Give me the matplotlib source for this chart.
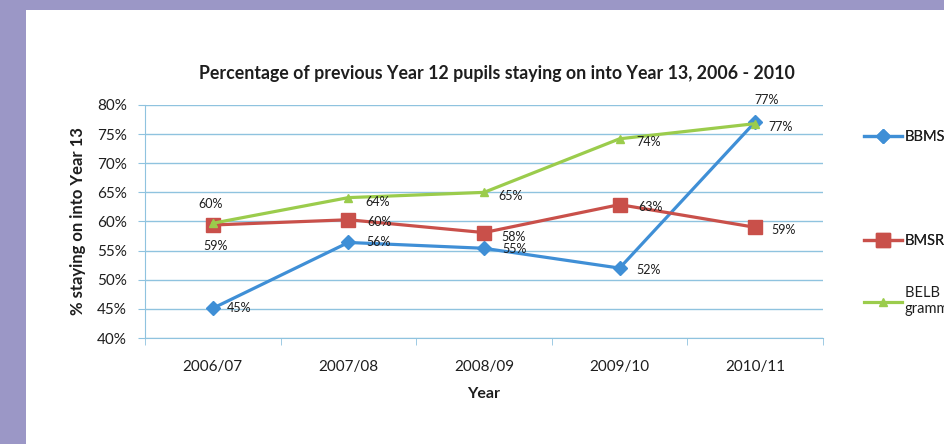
import matplotlib
matplotlib.use("Agg")
import matplotlib.pyplot as plt
from matplotlib.patches import Rectangle

# данные
years = ["2006/07", "2007/08", "2008/09", "2009/10", "2010/11"]
bbms = [45.1, 56.4, 55.4, 52.0, 77.1]
bmsr = [59.4, 60.3, 58.1, 62.9, 59.0]
belb = [59.7, 64.1, 65.0, 74.2, 76.8]
series_names = ["BBMS", "BMSR", "BELB non-\ngrammar"]
y_ticks = [40, 45, 50, 55, 60, 65, 70, 75, 80]

plt.rcParams["font.family"] = ["Lato", "DejaVu Sans"]

fig = plt.figure(figsize=(9.45, 4.44), dpi=100)
fig.patch.set_facecolor("white")

# фиолетовая рамка слева и сверху
purple = "#9b97c6"
fig.patches.append(Rectangle((0, 0), 26 / 945, 1, transform=fig.transFigure,
                             facecolor=purple, edgecolor="none", zorder=0))
fig.patches.append(Rectangle((0, 1 - 10 / 444), 1, 10 / 444, transform=fig.transFigure,
                             facecolor=purple, edgecolor="none", zorder=0))

ax = fig.add_axes([145 / 945, 1 - 338 / 444, (823 - 145) / 945, (338 - 105) / 444])

grid_c = "#8fc3df"
txt_c = "#1e1e1e"
x = list(range(len(years)))

styles = [
    dict(color="#3f8fd6", marker="D", markersize=7),
    dict(color="#c9504a", marker="s", markersize=10),
    dict(color="#9bcc4c", marker="^", markersize=6),
]
lines = []
for vals, name, st in zip([bbms, bmsr, belb], series_names, styles):
    ln, = ax.plot(x, vals, linewidth=2.3, label=name, zorder=3, **st)
    lines.append(ln)

# подписи значений: смещения в пикселях
offsets = [
    [(14, 0, "left"), (18, 0, "left"), (18, -1, "left"), (17, -2, "left"), (13, -5, "left")],
    [(3, -21, "center"), (19, -2, "left"), (17, -4, "left"), (19, -2, "left"), (16, -3, "left")],
    [(-2, 19, "center"), (17, -4, "left"), (14, -4, "left"), (17, -3, "left"), (11, 24, "center")],
]
for vals, offs in zip([bbms, bmsr, belb], offsets):
    for xi, v, (dx, dy, ha) in zip(x, vals, offs):
        ax.annotate(f"{round(v)}%", (xi, v), xytext=(dx, dy), textcoords="offset pixels",
                    ha=ha, va="center", fontsize=9, color=txt_c, zorder=4)

ax.set_xlim(-0.5, len(years) - 0.5)
ax.set_ylim(40, 80)
ax.set_yticks(y_ticks)
ax.set_yticklabels([f"{t}%" for t in y_ticks])
ax.yaxis.grid(True, color=grid_c, linewidth=1)
ax.set_axisbelow(True)

ax.set_xticks(x)
ax.set_xticklabels(years)
ax.set_xticks([i - 0.5 for i in range(len(years) + 1)], minor=True)
ax.tick_params(axis="x", which="major", length=0, pad=16, labelsize=11, colors=txt_c)
ax.tick_params(axis="x", which="minor", length=5, color=grid_c, direction="out")
ax.tick_params(axis="y", length=5, color=grid_c, labelsize=11, labelcolor=txt_c, pad=8)

for s in ["top", "right"]:
    ax.spines[s].set_visible(False)
for s in ["left", "bottom"]:
    ax.spines[s].set_color(grid_c)

ax.set_xlabel("Year", fontsize=11.5, fontweight="bold", labelpad=9, color=txt_c)
ax.set_ylabel("% staying on into Year 13", fontsize=12, fontweight="bold", labelpad=8,
              color=txt_c)
fig.text(497 / 945, 1 - 73 / 444,
         "Percentage of previous Year 12 pupils staying on into Year 13, 2006 - 2010",
         ha="center", va="center", fontsize=12.8, fontweight="bold", color=txt_c)

leg1 = fig.legend(handles=lines[:2], loc="upper left", bbox_to_anchor=(851 / 945, 1 - 117 / 444),
                  frameon=False, fontsize=10.5, labelspacing=6.15, handlelength=2.6,
                  handletextpad=0.2, labelcolor=txt_c)
fig.add_artist(leg1)
fig.legend(handles=lines[2:], loc="upper left", bbox_to_anchor=(851 / 945, 1 - 273 / 444),
           frameon=False, fontsize=10.5, handlelength=2.6, handletextpad=0.2,
           labelspacing=0.1, labelcolor=txt_c)

fig.savefig("out.png", dpi=100)
